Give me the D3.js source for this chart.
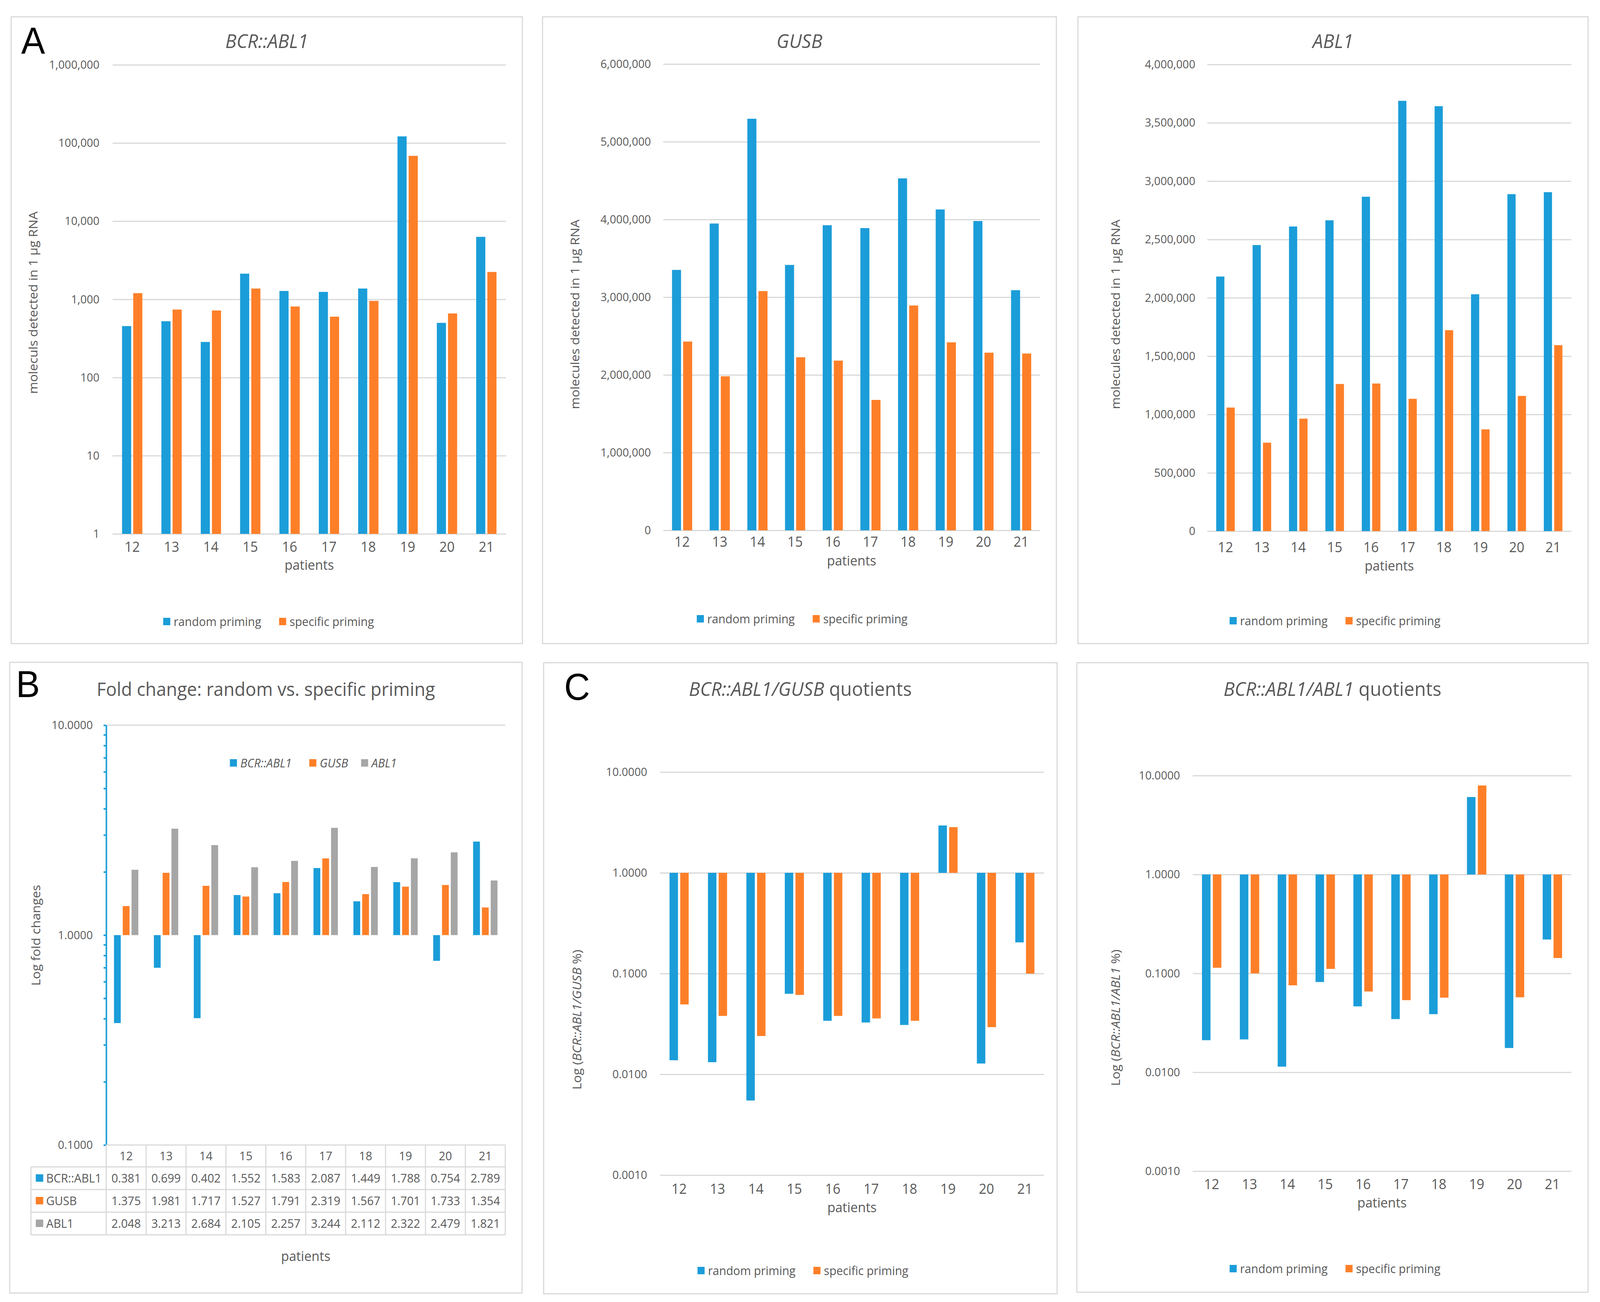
<!DOCTYPE html>
<html>
<head>
<meta charset="utf-8">
<script src="https://cdn.jsdelivr.net/npm/d3@7"></script>
<style>
  html, body { margin: 0; padding: 0; background: #fff; overflow: hidden; }
  #chart { display: block; width: 100vw; height: 100vh; }
  text { font-family: "Open Sans", sans-serif; }
</style>
</head>
<body>
<svg id="chart" viewBox="0 0 4294 3334" preserveAspectRatio="none"></svg>
<script>
// ---- data ----
const patients = ["12", "13", "14", "15", "16", "17", "18", "19", "20", "21"];
const primingNames = ["random priming", "specific priming"];
const geneNames = ["BCR::ABL1", "GUSB", "ABL1"];

// molecules per 1 µg RNA
const bcrRandom   = [455, 525, 285, 2130, 1280, 1245, 1375, 121500, 500, 6300];
const bcrSpecific = [1200, 740, 720, 1375, 810, 600, 955, 68500, 660, 2240];
const gusbRandom   = [3351000, 3948000, 5296000, 3415000, 3926000, 3889000, 4529000, 4129000, 3980000, 3090000];
const gusbSpecific = [2429000, 1982000, 3079000, 2227000, 2184000, 1678000, 2893000, 2419000, 2286000, 2275000];
const abl1Random   = [2182000, 2452000, 2611000, 2664000, 2866000, 3688000, 3642000, 2030000, 2888000, 2905000];
const abl1Specific = [1059000, 758000, 964000, 1261000, 1265000, 1134000, 1722000, 872000, 1159000, 1594000];

// fold change random / specific (data table of panel B)
const foldBcr  = [0.381, 0.699, 0.402, 1.552, 1.583, 2.087, 1.449, 1.788, 0.754, 2.789];
const foldGusb = [1.375, 1.981, 1.717, 1.527, 1.791, 2.319, 1.567, 1.701, 1.733, 1.354];
const foldAbl1 = [2.048, 3.213, 2.684, 2.105, 2.257, 3.244, 2.112, 2.322, 2.479, 1.821];

// quotients in %
const qGusbRandom   = [0.0138, 0.0132, 0.0055, 0.0630, 0.0340, 0.0327, 0.0309, 2.95, 0.0128, 0.204];
const qGusbSpecific = [0.0494, 0.0380, 0.0240, 0.0614, 0.0380, 0.0359, 0.0340, 2.84, 0.0294, 0.0999];
const qAbl1Random   = [0.0211, 0.0215, 0.0114, 0.0818, 0.0464, 0.0345, 0.0387, 6.07, 0.0176, 0.220];
const qAbl1Specific = [0.1140, 0.1000, 0.0757, 0.1110, 0.0656, 0.0536, 0.0568, 7.94, 0.0573, 0.143];

// axis ticks
const ticksBcr  = [1, 10, 100, 1000, 10000, 100000, 1000000];
const ticksGusb = [0, 1000000, 2000000, 3000000, 4000000, 5000000, 6000000];
const ticksAbl1 = [0, 500000, 1000000, 1500000, 2000000, 2500000, 3000000, 3500000, 4000000];
const ticksFold = [0.1, 1, 10];
const ticksQuot = [0.001, 0.01, 0.1, 1, 10];

// ---- styling ----
const BLUE = "#1b9dd9", ORANGE = "#fe7f28", GRAY = "#a6a6a6";
const TXT = "#595959", GRID = "#d9d9d9";

const svg = d3.select("#chart");
svg.append("rect").attr("width", 4294).attr("height", 3334).attr("fill", "#fff");

function addRich(sel, parts) {
  parts.forEach(s => sel.append("tspan").attr("font-style", s[1] ? "italic" : "normal").text(s[0]));
}

function addFrame(g, box) {
  g.append("rect")
    .attr("x", box[0]).attr("y", box[1])
    .attr("width", box[2] - box[0]).attr("height", box[3] - box[1])
    .attr("fill", "none").attr("stroke", GRID).attr("stroke-width", 3);
}

function addLetter(g, letter, x, y) {
  g.append("text").attr("x", x).attr("y", y).text(letter)
    .attr("font-size", 96).style("font-family", "'Liberation Sans', Arial, sans-serif").attr("fill", "#000");
}

function addLegend(g, names, colors, x0, offsets, y, italic) {
  const item = g.selectAll(null).data(names).enter().append("g")
    .attr("transform", (d, i) => `translate(${x0 + offsets[i]},${y})`);
  item.append("rect").attr("x", 0).attr("y", -10).attr("width", 19).attr("height", 19)
    .attr("fill", (d, i) => colors[i]);
  item.append("text").attr("x", 28).attr("dy", "0.36em").attr("font-size", 31).attr("fill", TXT)
    .attr("font-style", italic ? "italic" : "normal").text(d => d);
}

function addYTitle(g, parts, x, y) {
  const t = g.append("text").attr("transform", `translate(${x},${y}) rotate(-90)`)
    .attr("text-anchor", "middle").attr("dy", "0.35em").attr("font-size", 33).attr("fill", TXT);
  addRich(t, parts);
}

function addBars(g, x, y, values, colors, barFrac, gapFrac, base) {
  const bw = x.bandwidth() * barFrac, gap = x.bandwidth() * gapFrac;
  const n = values.length, half = (n * bw + (n - 1) * gap) / 2;
  const inner = d3.scaleBand().domain(d3.range(n)).range([-half, half]).paddingInner(gap / (bw + gap));
  values.forEach((vals, si) => {
    g.selectAll(null).data(vals).enter().append("rect")
      .attr("x", (d, i) => x(patients[i]) + x.bandwidth() / 2 + inner(si))
      .attr("width", inner.bandwidth())
      .attr("y", d => Math.min(y(d), y(base)))
      .attr("height", d => Math.abs(y(d) - y(base)))
      .attr("fill", colors[si]);
  });
}

function drawPanel(p) {
  const g = svg.append("g");
  addFrame(g, p.box);
  const [l, t, r, b] = p.plot;
  const x = d3.scaleBand().domain(patients).range([l, r]);
  const y = (p.log ? d3.scaleLog() : d3.scaleLinear()).domain(p.domain).range([b, t]);

  const ya = g.append("g").attr("transform", `translate(${l},0)`)
    .call(d3.axisLeft(y).tickValues(p.ticks).tickFormat(p.fmt).tickSize(-(r - l)).tickPadding(p.tickPad));
  ya.select(".domain").remove();
  ya.selectAll("line").attr("stroke", GRID).attr("stroke-width", 3);
  ya.selectAll("text").attr("font-size", 30).attr("fill", TXT);

  addBars(g, x, y, p.values, [BLUE, ORANGE], p.barFrac, p.gapFrac, p.base);

  const xa = g.append("g").attr("transform", `translate(0,${b})`)
    .call(d3.axisBottom(x).tickSize(0).tickPadding(p.xPad));
  xa.select(".domain").remove();
  xa.selectAll("text").attr("font-size", 36).attr("fill", TXT);

  g.append("text").attr("x", (l + r) / 2).attr("y", p.patientsY).attr("dy", "0.35em")
    .attr("text-anchor", "middle").attr("font-size", 35).attr("fill", TXT).text("patients");

  const tt = g.append("text").attr("x", (p.box[0] + p.box[2]) / 2).attr("y", p.titleY)
    .attr("text-anchor", "middle").attr("font-size", 50).attr("fill", TXT);
  addRich(tt, p.title);

  addYTitle(g, p.yTitle, p.yTitleX, p.yTitleY);
  addLegend(g, primingNames, [BLUE, ORANGE], p.legendX, [0, 311], p.legendY, false);
  if (p.letter) addLetter(g, p.letter[0], p.letter[1], p.letter[2]);
}

const fmtInt = d3.format(",");
const fmt4 = d3.format(".4f");

drawPanel({
  box: [30, 43, 1402, 1648], plot: [302, 166, 1358, 1367],
  log: true, domain: [1, 1000000], ticks: ticksBcr, fmt: fmtInt, tickPad: 35, base: 1,
  values: [bcrRandom, bcrSpecific], barFrac: 0.232, gapFrac: 0.052,
  title: [["BCR::ABL1", true]], titleY: 123,
  yTitle: [["moleculs detected in 1 µg RNA", false]], yTitleX: 89, yTitleY: 775,
  xPad: 20, patientsY: 1447, legendX: 438, legendY: 1592, letter: ["A", 57, 137]
});

drawPanel({
  box: [1456, 43, 2835, 1648], plot: [1780, 164, 2791, 1358],
  log: false, domain: [0, 6000000], ticks: ticksGusb, fmt: fmtInt, tickPad: 33, base: 0,
  values: [gusbRandom, gusbSpecific], barFrac: 0.24, gapFrac: 0.055,
  title: [["GUSB", true]], titleY: 123,
  yTitle: [["molecules detected in 1 µg RNA", false]], yTitleX: 1543, yTitleY: 805,
  xPad: 16, patientsY: 1436, legendX: 1870, legendY: 1585
});

drawPanel({
  box: [2893, 43, 4262, 1648], plot: [3240, 165, 4217, 1360],
  log: false, domain: [0, 4000000], ticks: ticksAbl1, fmt: fmtInt, tickPad: 32, base: 0,
  values: [abl1Random, abl1Specific], barFrac: 0.225, gapFrac: 0.06,
  title: [["ABL1", true]], titleY: 123,
  yTitle: [["molecules detected in 1 µg RNA", false]], yTitleX: 2994, yTitleY: 805,
  xPad: 28, patientsY: 1449, legendX: 3300, legendY: 1590
});

drawPanel({
  box: [1459, 1697, 2837, 3313], plot: [1771, 1977, 2802, 3009],
  log: true, domain: [0.001, 10], ticks: ticksQuot, fmt: fmt4, tickPad: 34, base: 1,
  values: [qGusbRandom, qGusbSpecific], barFrac: 0.22, gapFrac: 0.058,
  title: [["BCR::ABL1/GUSB", true], [" quotients", false]], titleY: 1782,
  yTitle: [["Log (", false], ["BCR::ABL1/GUSB", true], [" %)", false]], yTitleX: 1548, yTitleY: 2611,
  xPad: 22, patientsY: 3092, legendX: 1872, legendY: 3254, letter: ["C", 1514, 1792]
});

drawPanel({
  box: [2890, 1697, 4262, 3309], plot: [3201, 1986, 4217, 2999],
  log: true, domain: [0.001, 10], ticks: ticksQuot, fmt: fmt4, tickPad: 34, base: 1,
  values: [qAbl1Random, qAbl1Specific], barFrac: 0.225, gapFrac: 0.062,
  title: [["BCR::ABL1/ABL1", true], [" quotients", false]], titleY: 1782,
  yTitle: [["Log (", false], ["BCR::ABL1/ABL1", true], [" %)", false]], yTitleX: 2994, yTitleY: 2606,
  xPad: 20, patientsY: 3080, legendX: 3300, legendY: 3249
});

// ---- panel B: fold change with data table ----
(function drawFold() {
  const g = svg.append("g");
  const box = [26, 1696, 1401, 3311];
  addFrame(g, box);
  const [l, t, r, b] = [285, 1857, 1356, 2932];
  const x = d3.scaleBand().domain(patients).range([l, r]);
  const y = d3.scaleLog().domain([0.1, 10]).range([b, t]);

  g.append("line").attr("x1", l).attr("x2", r).attr("y1", y(10)).attr("y2", y(10))
    .attr("stroke", GRID).attr("stroke-width", 3);

  addBars(g, x, y, [foldBcr, foldGusb, foldAbl1], [BLUE, ORANGE, GRAY], 0.17, 0.05, 1);

  const axis = g.append("g").attr("transform", `translate(${l},0)`)
    .call(d3.axisLeft(y).tickValues(y.ticks()).tickFormat("").tickSize(7).tickSizeOuter(0));
  axis.selectAll("line, path").attr("stroke", BLUE).attr("stroke-width", 4);

  const lab = g.append("g").attr("transform", `translate(${l},0)`)
    .call(d3.axisLeft(y).tickValues(ticksFold).tickFormat(fmt4).tickSize(0).tickPadding(36));
  lab.select(".domain").remove();
  lab.selectAll("text").attr("font-size", 30).attr("fill", TXT);

  // data table
  const tLeft = 83, headH = 56, rowH = 58;
  const tBottom = b + headH + geneNames.length * rowH;
  const colEdges = patients.map(p => x(p)).concat([r]);
  g.selectAll(null).data(colEdges).enter().append("line")
    .attr("x1", d => d).attr("x2", d => d).attr("y1", b).attr("y2", tBottom)
    .attr("stroke", GRID).attr("stroke-width", 3);
  g.append("line").attr("x1", tLeft).attr("x2", tLeft).attr("y1", b + headH).attr("y2", tBottom)
    .attr("stroke", GRID).attr("stroke-width", 3);
  g.append("line").attr("x1", l).attr("x2", r).attr("y1", b).attr("y2", b)
    .attr("stroke", GRID).attr("stroke-width", 3);
  g.selectAll(null).data(d3.range(geneNames.length + 1)).enter().append("line")
    .attr("x1", tLeft).attr("x2", r)
    .attr("y1", i => b + headH + i * rowH).attr("y2", i => b + headH + i * rowH)
    .attr("stroke", GRID).attr("stroke-width", 3);

  g.selectAll(null).data(patients).enter().append("text")
    .attr("x", d => x(d) + x.bandwidth() / 2).attr("y", b + headH / 2).attr("dy", "0.36em")
    .attr("text-anchor", "middle").attr("font-size", 31).attr("fill", TXT).text(d => d);

  const rows = [foldBcr, foldGusb, foldAbl1];
  const rowColors = [BLUE, ORANGE, GRAY];
  const fmt3 = d3.format(".3f");
  rows.forEach((vals, ri) => {
    const cy = b + headH + ri * rowH + rowH / 2;
    g.append("rect").attr("x", tLeft + 13).attr("y", cy - 10).attr("width", 20).attr("height", 19)
      .attr("fill", rowColors[ri]);
    g.append("text").attr("x", tLeft + 41).attr("y", cy).attr("dy", "0.36em")
      .attr("font-size", 31).attr("fill", TXT).text(geneNames[ri]);
    g.selectAll(null).data(vals).enter().append("text")
      .attr("x", (d, i) => x(patients[i]) + x.bandwidth() / 2).attr("y", cy).attr("dy", "0.36em")
      .attr("text-anchor", "middle").attr("font-size", 31).attr("fill", TXT).text(d => fmt3(d));
  });

  g.append("text").attr("x", (l + r) / 2).attr("y", 3217).attr("dy", "0.35em")
    .attr("text-anchor", "middle").attr("font-size", 35).attr("fill", TXT).text("patients");

  g.append("text").attr("x", (box[0] + box[2]) / 2).attr("y", 1782)
    .attr("text-anchor", "middle").attr("font-size", 48).attr("fill", TXT)
    .text("Fold change: random vs. specific priming");

  addYTitle(g, [["Log fold changes", false]], 96, 2395);
  addLegend(g, geneNames, [BLUE, ORANGE, GRAY], 617, [0, 213, 352], 1954, true);
  addLetter(g, "B", 43, 1785);
})();
</script>
</body>
</html>
